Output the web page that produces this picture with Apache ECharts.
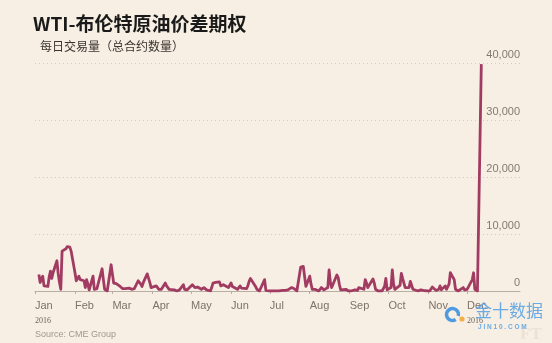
<!DOCTYPE html>
<html>
<head>
<meta charset="utf-8">
<script src="https://cdn.jsdelivr.net/npm/echarts@6/dist/echarts.min.js"></script>
<style>
html,body{margin:0;padding:0;background:#f7efe3;}
#chart{width:552px;height:343px;}
</style>
</head>
<body>
<div id="chart"></div>
<script>
// Daily trading volume (total contracts), one value per weekday starting 2016-01-04
const firstTradingDay = [2016, 0, 4];
const volume = [
  2900, 1500, 2200, 2600, 900,
  800, 2500, 3500, 2200, 3200,
  5300, 3000, 1500, 300, 7000,
  7400, 7800, 7600, 7700, 7000,
  3200, 1800, 1700, 2600, 2000,
  1800, 600, 2000, 1200, 200,
  2600, 300, 200, 400, 200,
  3900, 2000, 300, 200, 0,
  4600, 3000, 1400, 1200, 1300,
  800, 600, 400, 300, 400,
  500, 600, 300, 200, 400,
  1800, 2000, 1200, 800, 1500,
  3000, 3300, 1500, 600, 400,
  900, 600, 300, 400, 300,
  1400, 900, 600, 300, 300,
  200, 100, 0, 100, 200,
  1100, 300, 0, 200, 300,
  1100, 800, 600, 900, 700,
  300, 400, 600, 500, 200,
  0, 600, 1400, 1200, 1500,
  1600, 900, 1000, 1100, 1200,
  600, 1000, 1400, 800, 600,
  300, 600, 900, 500, 300,
  400, 900, 1700, 2200, 2400,
  800, 300, 100, 0, 0,
  2000, 100, 0, 0, 0,
  0, 0, 0, 100, 0,
  100, 200, 100, 0, 200,
  600, 700, 400, 100, 0,
  4200, 4300, 4300, 4000, 800,
  2600, 1200, 300, 200, 300,
  0, 100, 600, 300, 200,
  600, 3700, 1500, 600, 300,
  2800, 2400, 1100, 200, 0,
  300, 200, 0, 100, 0,
  200, 300, 100, 600, 300,
  300, 2000, 1400, 600, 900,
  2100, 1400, 300, 100, 0,
  0, 200, 800, 2200, 200,
  600, 3700, 1200, 300, 200,
  1000, 3100, 2200, 1400, 600,
  600, 1700, 1400, 300, 100,
  0, 100, 200, 0, 100,
  0, 100, 0, 200, 700,
  100, 0, 300, 900, 200,
  900, 300, 200, 1200, 3200,
  2000, 300, 100, 0, 100,
  600, 200, 0, 300, 600,
  2000, 3200, 300, 0, 0,
  39800
];
const monthLabels = ['Jan','Feb','Mar','Apr','May','Jun','Jul','Aug','Sep','Oct','Nov','Dec'];
const yearLabel = '2016';
const titleText = 'WTI-布伦特原油价差期权';
const subtitleText = '每日交易量（总合约数量）';
const sourceText = 'Source: CME Group';

// weekday positions of the trading calendar
const dates = [];
{
  let d = new Date(firstTradingDay[0], firstTradingDay[1], firstTradingDay[2]);
  while (dates.length < volume.length) {
    const wd = d.getDay();
    if (wd !== 0 && wd !== 6) dates.push(d.getTime());
    d = new Date(d.getFullYear(), d.getMonth(), d.getDate() + 1);
  }
}
const seriesData = volume.map((v, i) => [dates[i], v]);
const monthStarts = monthLabels.map((m, i) => new Date(2016, i, 1).getTime());

const chart = echarts.init(document.getElementById('chart'));
chart.setOption({
  backgroundColor: '#f7efe3',
  animation: false,
  grid: { left: 35, right: 32, top: 63, bottom: 52 },
  xAxis: {
    type: 'value',
    min: new Date(2016, 0, 1).getTime(),
    max: new Date(2017, 0, 11).getTime(),
    splitLine: { show: false },
    axisLine: { show: true, onZero: false, lineStyle: { color: '#b9aea5', width: 1 } },
    axisTick: { show: true, length: 3, lineStyle: { color: '#b9aea5' }, customValues: monthStarts },
    axisLabel: {
      customValues: monthStarts,
      align: 'left',
      margin: 8,
      color: '#7d726a',
      fontSize: 11,
      fontFamily: 'Liberation Sans',
      formatter: function (value) {
        const m = new Date(value).getMonth();
        if (m === 0 || m === 11) return '{m|' + monthLabels[m] + '}\n{y|' + yearLabel + '}';
        return '{m|' + monthLabels[m] + '}';
      },
      rich: {
        m: { fontSize: 11, color: '#7d726a', fontFamily: 'Liberation Sans', lineHeight: 14 },
        y: { fontSize: 8, color: '#6b625b', fontFamily: 'Liberation Serif', lineHeight: 14, padding: [2, 0, 0, 0] }
      }
    }
  },
  yAxis: {
    type: 'value',
    position: 'right',
    min: 0,
    max: 40000,
    interval: 10000,
    axisLine: { show: false },
    axisTick: { show: false },
    splitLine: { show: true, lineStyle: { color: '#dcc6ba', type: [1, 3], width: 1 } },
    axisLabel: {
      inside: true,
      margin: 0,
      verticalAlign: 'bottom',
      padding: [0, 0, 3, 0],
      color: '#85796f',
      fontSize: 11,
      fontFamily: 'Liberation Sans'
    }
  },
  series: [{
    type: 'line',
    data: seriesData,
    showSymbol: false,
    symbol: 'none',
    lineStyle: { color: '#a23b62', width: 2.8, join: 'round' },
    z: 3
  }],
  graphic: [
    { type: 'text', left: 33, top: 14, style: { text: titleText, font: 'bold 19px "Noto Sans CJK SC"', fill: '#1a1a1a' } },
    { type: 'text', left: 40, top: 40, style: { text: subtitleText, font: '12px "Noto Sans CJK SC"', fill: '#3a3531' } },
    { type: 'text', left: 35, top: 330, style: { text: sourceText, font: '9px "Liberation Sans"', fill: '#a0978f' } },
    { type: 'text', left: 520, top: 326, style: { text: 'FT', font: 'bold 17px "Liberation Serif"', fill: '#ece1d4' } },
    { type: 'arc', shape: { cx: 452.5, cy: 314.5, r: 6, startAngle: 1.0, endAngle: 0.25 + Math.PI * 2 }, style: { stroke: '#4f9be0', lineWidth: 3.5, fill: null }, z: 100 },
    { type: 'circle', shape: { cx: 462, cy: 319, r: 2.6 }, style: { fill: '#f3b048' }, z: 100 },
    { type: 'text', left: 475, top: 302, style: { text: '金十数据', font: '17px "Noto Sans CJK SC"', fill: '#5aa3e6', opacity: 0.9 }, z: 100 },
    { type: 'text', left: 478, top: 324, style: { text: 'J I N 1 0 . C O M', font: 'bold 6.5px "Liberation Sans"', fill: '#5aa3e6', opacity: 0.9 }, z: 100 }
  ]
});
</script>
</body>
</html>
